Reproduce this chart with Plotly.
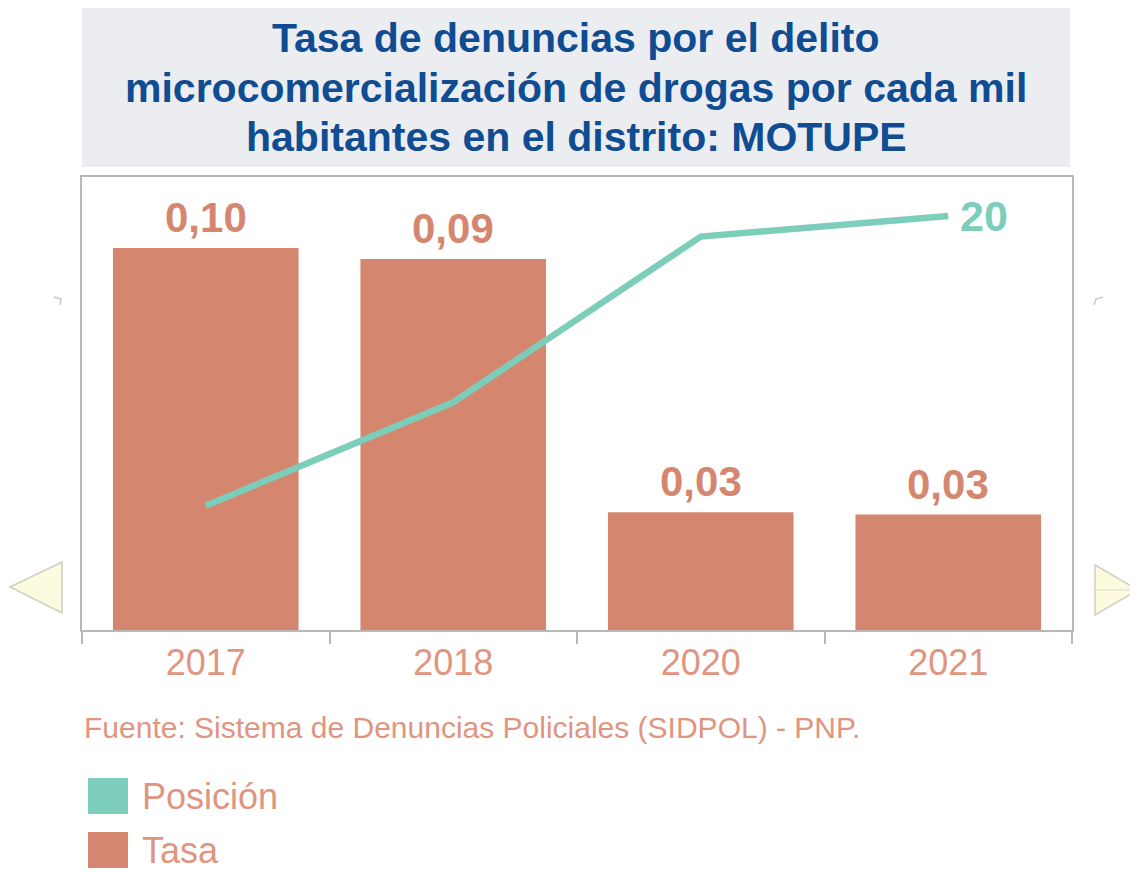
import plotly.graph_objects as go

# ---- data ----
years = ["2017", "2018", "2020", "2021"]
tasa = [0.0973, 0.0945, 0.0300, 0.0294]
posicion = [6, 11, 19, 20]

title_lines = [
    "Tasa de denuncias por el delito",
    "microcomercialización de drogas por cada mil",
    "habitantes en el distrito: MOTUPE",
]
source_text = "Fuente: Sistema de Denuncias Policiales (SIDPOL) - PNP."
legend_names = ["Posición", "Tasa"]

BAR = "#d5866f"
LINE = "#7dcdbb"
TICK = "#df9580"
BLUE = "#0f4c92"
FONT = "Liberation Sans, Arial, sans-serif"

OFF = 8  # page body margin
W, H = 1138 - OFF, 872 - OFF
L, R, T, B = 82, 1072, 177, 630  # plot area in screenshot pixels


def px_x(px):
    return (px - L) / (R - L)


def px_y(py):
    return (B - py) / (B - T)


fig = go.Figure()
fig.add_trace(go.Bar(
    x=years, y=tasa, marker=dict(color=BAR, line=dict(width=0)),
    showlegend=False, name=legend_names[1],
))
fig.add_trace(go.Scatter(
    x=years, y=posicion, yaxis="y2", mode="lines",
    line=dict(color=LINE, width=6.5), cliponaxis=False,
    showlegend=False, name=legend_names[0],
))

shapes = [
    # title box
    dict(type="rect", xref="paper", yref="paper", x0=0, x1=px_x(1070), y0=px_y(167), y1=px_y(OFF),
         fillcolor="#ebedf1", line=dict(width=0), layer="below"),
    # decorative arrows
    dict(type="path", xref="paper", yref="paper",
         path=f"M {px_x(10)} {px_y(587)} L {px_x(62)} {px_y(562)} L {px_x(62)} {px_y(613)} Z",
         fillcolor="#fcfadf", line=dict(color="#cfcfc4", width=1.5)),
    dict(type="path", xref="paper", yref="paper",
         path=f"M {px_x(1095)} {px_y(565)} L {px_x(1138)} {px_y(590)} L {px_x(1095)} {px_y(615)} Z",
         fillcolor="#fcfadf", line=dict(color="#cfcfc4", width=1.5)),
    dict(type="line", xref="paper", yref="paper", x0=px_x(1095), x1=px_x(1138), y0=px_y(590), y1=px_y(590),
         line=dict(color="#dedccc", width=1)),
    dict(type="path", xref="paper", yref="paper",
         path=f"M {px_x(54)} {px_y(297)} L {px_x(61)} {px_y(299)} L {px_x(60)} {px_y(305)}",
         line=dict(color="#c8c8c8", width=1.5)),
    dict(type="path", xref="paper", yref="paper",
         path=f"M {px_x(1094)} {px_y(305)} L {px_x(1096)} {px_y(299)} L {px_x(1103)} {px_y(297)}",
         line=dict(color="#c8c8c8", width=1.5)),
    # legend squares
    dict(type="rect", xref="paper", yref="paper", x0=px_x(88), x1=px_x(128), y0=px_y(814), y1=px_y(778),
         fillcolor=LINE, line=dict(width=0)),
    dict(type="rect", xref="paper", yref="paper", x0=px_x(88), x1=px_x(128), y0=px_y(868), y1=px_y(832),
         fillcolor=BAR, line=dict(width=0)),
]

annotations = []
for line_text, cy in zip(title_lines, [38, 88, 137]):
    annotations.append(dict(
        text=f"<b>{line_text}</b>", xref="paper", yref="paper", x=px_x(576), y=px_y(cy),
        xanchor="center", yanchor="middle", showarrow=False,
        font=dict(size=41, color=BLUE, family=FONT)))
# bar value labels (category index positions)
for i, v in enumerate(tasa):
    annotations.append(dict(
        text=f"<b>{v:.2f}</b>".replace(".", ","), x=i, y=v, xref="x", yref="y",
        xanchor="center", yanchor="bottom", yshift=5, showarrow=False,
        font=dict(size=42, color=BAR, family=FONT)))
# last position label
annotations.append(dict(
    text=f"<b>{posicion[-1]}</b>", x=len(years) - 1, y=posicion[-1], xref="x", yref="y2",
    xanchor="left", yanchor="middle", xshift=10, showarrow=False,
    font=dict(size=43, color=LINE, family=FONT)))
annotations.append(dict(
    text=source_text, xref="paper", yref="paper", x=px_x(82), y=px_y(727),
    xanchor="left", yanchor="middle", showarrow=False,
    font=dict(size=30, color=TICK, family=FONT)))
for name, cy in zip(legend_names, [796, 850]):
    annotations.append(dict(
        text=name, xref="paper", yref="paper", x=px_x(140), y=px_y(cy),
        xanchor="left", yanchor="middle", showarrow=False,
        font=dict(size=36, color=TICK, family=FONT)))

fig.update_layout(
    width=W, height=H,
    margin=dict(l=L - OFF, r=1138 - R, t=T - OFF, b=872 - B, pad=0),
    paper_bgcolor="white", plot_bgcolor="white",
    separators=",.",
    bargap=0.25,
    showlegend=False,
    shapes=shapes,
    annotations=annotations,
    xaxis=dict(type="category", range=[-0.5, len(years) - 0.5], showline=True,
               linecolor="#b8b8b8", linewidth=2, mirror=True,
               ticks="outside", tickson="boundaries", ticklen=12, tickcolor="#b8b8b8", tickwidth=2,
               tickfont=dict(size=36, color=TICK, family=FONT), tickangle=0, showgrid=False),
    yaxis=dict(range=[0, 0.1154], showline=True, linecolor="#b8b8b8", linewidth=2, mirror=True,
               showticklabels=False, showgrid=False, zeroline=False, ticks=""),
    yaxis2=dict(range=[0, 21.88], overlaying="y", side="right", showticklabels=False,
                showgrid=False, zeroline=False, showline=False),
)

fig.write_html("out.html")
